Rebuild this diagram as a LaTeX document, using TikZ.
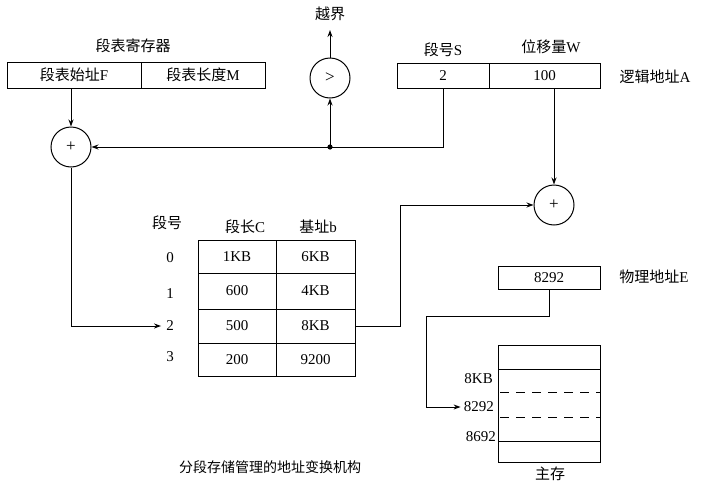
\documentclass[tikz,border=0pt]{standalone}
\usepackage{fontspec}
\setmainfont{Liberation Serif}
\newfontfamily\cjk{Noto Sans CJK SC}
\newcommand{\zhs}[1]{{\cjk #1}}
\usetikzlibrary{arrows.meta}
\begin{document}
\begin{tikzpicture}[x=1pt,y=-1pt,
  every node/.style={font=\fontsize{15}{17}\selectfont, inner sep=0pt},
  cell/.style={draw, line width=1pt},
  ring/.style={draw, circle, line width=1pt, minimum size=40pt},
  arr/.style={line width=1pt, -{Stealth[length=7pt,width=5pt]}},
  ln/.style={line width=1pt},
  lbl/.style={font=\fontsize{15}{17}\selectfont}]
\useasboundingbox (0,0) rectangle (720,485);
\fill[white] (0,0) rectangle (720,485);

% segment table register
\node[cell, minimum width=134pt, minimum height=26pt] (regF) at (74,75) {\zhs{段表始址}F};
\node[cell, minimum width=124pt, minimum height=26pt] (regM) at (203,75) {\zhs{段表长度}M};
\node[lbl] (regT) at (133,46) {\zhs{段表寄存器}};

% logical address
\node[cell, minimum width=92pt, minimum height=25pt] (segS) at (443,75.5) {2};
\node[cell, minimum width=111pt, minimum height=25pt] (segW) at (544.5,75.5) {100};
\node[lbl] (hS) at (443,50) {\zhs{段号}S};
\node[lbl] (hW) at (551,47) {\zhs{位移量}W};
\node[lbl] (logA) at (655,77) {\zhs{逻辑地址}A};

% circles
\node[ring, font=\fontsize{17}{19}\selectfont] (plusL) at (71,147) {+};
\node[ring, font=\fontsize{17}{19}\selectfont] (cmp) at (330,78) {>};
\node[ring, font=\fontsize{17}{19}\selectfont] (plusR) at (554,205) {+};
\node[lbl] (over) at (330,14) {\zhs{越界}};
\coordinate (junc) at (330,147);

% segment table
\node[lbl] (hNo) at (167,223) {\zhs{段号}};
\node[lbl] (hC) at (245,227) {\zhs{段长}C};
\node[lbl] (hB) at (318,227) {\zhs{基址}b};
\node[cell, minimum width=78pt, minimum height=33pt] (c0) at (237,256.5) {1KB};
\node[cell, minimum width=79pt, minimum height=33pt] (b0) at (315.5,256.5) {6KB};
\node[cell, minimum width=78pt, minimum height=36pt] (c1) at (237,291) {600};
\node[cell, minimum width=79pt, minimum height=36pt] (b1) at (315.5,291) {4KB};
\node[cell, minimum width=78pt, minimum height=34pt] (c2) at (237,326) {500};
\node[cell, minimum width=79pt, minimum height=34pt] (b2) at (315.5,326) {8KB};
\node[cell, minimum width=78pt, minimum height=33pt] (c3) at (237,359.5) {200};
\node[cell, minimum width=79pt, minimum height=33pt] (b3) at (315.5,359.5) {9200};
\node (r0) at (170,258) {0};
\node (r1) at (170,294) {1};
\node (r2) at (170,326) {2};
\node (r3) at (170,357) {3};

% physical address
\node[cell, minimum width=102pt, minimum height=23pt] (phys) at (549,278) {8292};
\node[lbl] (physE) at (654,277) {\zhs{物理地址}E};

% main memory
\draw[ln] (498,345) rectangle (600,462);
\draw[ln] (498,369) -- (600,369);
\draw[ln] (498,441) -- (600,441);
\draw[ln, dash pattern=on 9pt off 7pt] (500,392) -- (600,392);
\draw[ln, dash pattern=on 9pt off 7pt] (500,417) -- (600,417);
\node[anchor=east] (m8KB) at (493,379) {8KB};
\node[anchor=east] (m8292) at (494,407) {8292};
\node[anchor=east] (m8692) at (496,437) {8692};
\node[lbl] (mem) at (550,474) {\zhs{主存}};

\node[font=\fontsize{14}{16}\selectfont] (cap) at (270,467) {\zhs{分段存储管理的地址变换机构}};

% connectors
\draw[arr] (regF.south -| plusL) -- (plusL.north);
\draw[arr] (segS.south) |- (plusL.east);
\fill (junc) circle (2.6pt);
\draw[arr] (junc) -- (cmp.south);
\draw[arr] (cmp.north) -- (over.south |- 0,30);
\draw[arr] (segW.south -| plusR) -- (plusR.north);
\draw[arr] (plusL.south) |- ([xshift=-5pt]r2.west);
\coordinate (k0) at (400,326);
\draw[arr] (b2.east) -- (k0) |- (plusR.west);
\coordinate (k1) at (426,316);
\draw[arr] (phys.south) |- (k1) |- ([xshift=-3pt]m8292.west);
\end{tikzpicture}
\end{document}
